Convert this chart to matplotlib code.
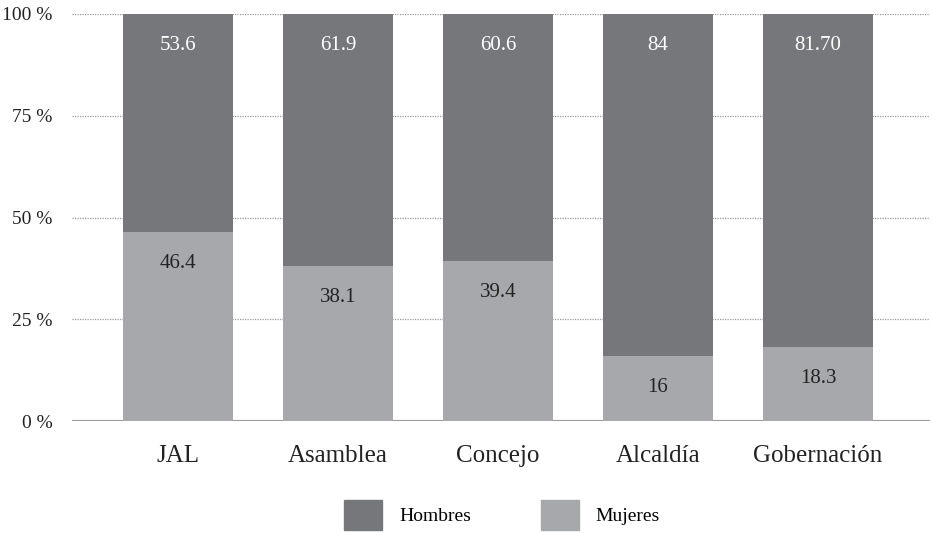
import numpy as np
import matplotlib.pyplot as plt
from matplotlib.patches import Patch

plt.rcParams['font.family'] = ['Liberation Serif', 'DejaVu Serif']

cargos = ['JAL', 'Asamblea', 'Concejo', 'Alcaldía', 'Gobernación']
mujeres = [46.4, 38.1, 39.4, 16, 18.3]
hombres = [53.6, 61.9, 60.6, 84, 81.70]
etiq_hombres = ['53.6', '61.9', '60.6', '84', '81.70']
etiq_mujeres = ['46.4', '38.1', '39.4', '16', '18.3']
yticks = [0, 25, 50, 75, 100]

c_hombres = '#76777b'
c_mujeres = '#a7a8ac'

fig = plt.figure(figsize=(9.32, 5.33), dpi=100)
ax = fig.add_axes([72 / 932, 112 / 533, 858 / 932, 407 / 533])

x = np.arange(len(cargos))
w = 0.69
ax.bar(x, mujeres, width=w, color=c_mujeres, zorder=3)
ax.bar(x, hombres, width=w, bottom=mujeres, color=c_hombres, zorder=3)

# etiquetas dentro de cada segmento, un poco por debajo del borde superior
off = 7.8
for i in range(len(cargos)):
    ax.text(x[i], mujeres[i] + hombres[i] - off, etiq_hombres[i], ha='center', va='center',
            color='white', fontsize=15, zorder=4)
    ax.text(x[i], mujeres[i] - off, etiq_mujeres[i], ha='center', va='center',
            color='#222222', fontsize=15, zorder=4)

ax.set_xlim(-0.6625, 4.7)
ax.set_ylim(0, 100)
ax.set_yticks(yticks)
ax.set_yticklabels([f'{v} %' for v in yticks], fontsize=14, color='#222222')
ax.set_xticks(x)
ax.set_xticklabels(cargos, fontsize=18, color='#222222')
ax.tick_params(axis='both', length=0)
ax.tick_params(axis='y', pad=14)
ax.tick_params(axis='x', pad=17)

for v in yticks[1:]:
    ax.axhline(v, color='#9a9a9a', lw=0.9, ls=(0, (1, 1)), zorder=1)
ax.axhline(0, color='#9a9a9a', lw=1.5, zorder=2)

for s in ax.spines.values():
    s.set_visible(False)

handles = [Patch(color=c_hombres, label='Hombres'), Patch(color=c_mujeres, label='Mujeres')]
fig.legend(handles=handles, loc='center', bbox_to_anchor=(502 / 932, 18 / 533), ncol=2,
           frameon=False, fontsize=14, handlelength=1.95, handleheight=1.95,
           handletextpad=0.85, columnspacing=3.6)

fig.savefig('out.png', dpi=100)
